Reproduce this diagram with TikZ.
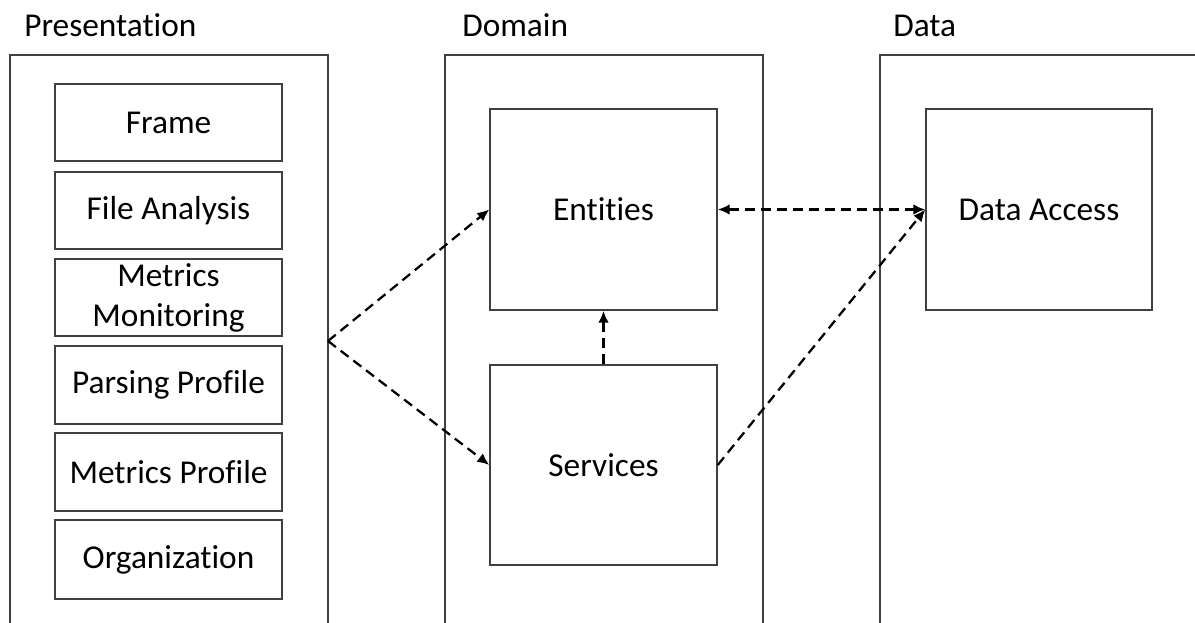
\documentclass[tikz,border=0pt]{standalone}
\usepackage{fontspec}
\setmainfont{Carlito}[Ligatures=NoCommon]
\usetikzlibrary{arrows.meta}
\definecolor{linegray}{HTML}{404040}
\tikzset{
  part/.style={draw=linegray, line width=1.1pt, inner sep=0pt,
    font=\fontsize{25}{30}\selectfont, align=center},
  size/.style 2 args={minimum width={#1*0.75pt}, minimum height={#2*0.75pt}},
  title/.style={anchor=base west, inner sep=0pt, font=\fontsize{25}{30}\selectfont},
  dep/.style={draw=black, line width=1.7pt, dash pattern=on 7.5pt off 4.5pt,
    -{Latex[length=9pt,width=8pt]}},
  twoway/.style={dep, {Latex[length=9pt,width=8pt]}-{Latex[length=9pt,width=8pt]}}
}
\begin{document}
\begin{tikzpicture}[x=0.75pt,y=-0.75pt]
  \useasboundingbox (0,0) rectangle (1195,623);
  \clip (0,0) rectangle (1195,623);

  % layer titles
  \node[title] (ptitle) at (24,37) {Presentation};
  \node[title] (dtitle) at (462,37) {Domain};
  \node[title] (atitle) at (893,37) {Data};

  % layer frames (run past the lower and right edges)
  \node[part, size={318}{595}] (pres) at (169,352.5) {};
  \node[part, size={318}{595}] (dom) at (604,352.5) {};
  \node[part, size={340}{595}] (data) at (1050,352.5) {};

  % presentation components
  \node[part, size={227}{77}] (frame) at (168.5,122.5) {Frame};
  \node[part, size={227}{77}] (file) at (168.5,210.5) {File Analysis};
  \node[part, size={227}{77}] (monitor) at (168.5,297.5) {Metrics\\Monitoring};
  \node[part, size={227}{78}] (parse) at (168.5,385) {Parsing Profile};
  \node[part, size={227}{78}] (mprofile) at (168.5,472) {Metrics Profile};
  \node[part, size={227}{79}] (org) at (168.5,559.5) {Organization};

  % domain components
  \node[part, size={227}{201}] (ent) at (603.5,209.5) {Entities};
  \node[part, size={227}{200}] (serv) at (603.5,465) {Services};

  % data components
  \node[part, size={226}{201}] (acc) at (1039,209.5) {Data Access};

  % dependencies
  \coordinate (fork) at (328,341);
  \draw[dep] (fork) -- (ent.west);
  \draw[dep] (fork) -- (serv.west);
  \draw[dep] (serv.north) -- (ent.south);
  \draw[twoway] (ent.east) -- (acc.west);
  \draw[dep] (serv.east) -- (acc.west);
\end{tikzpicture}
\end{document}
